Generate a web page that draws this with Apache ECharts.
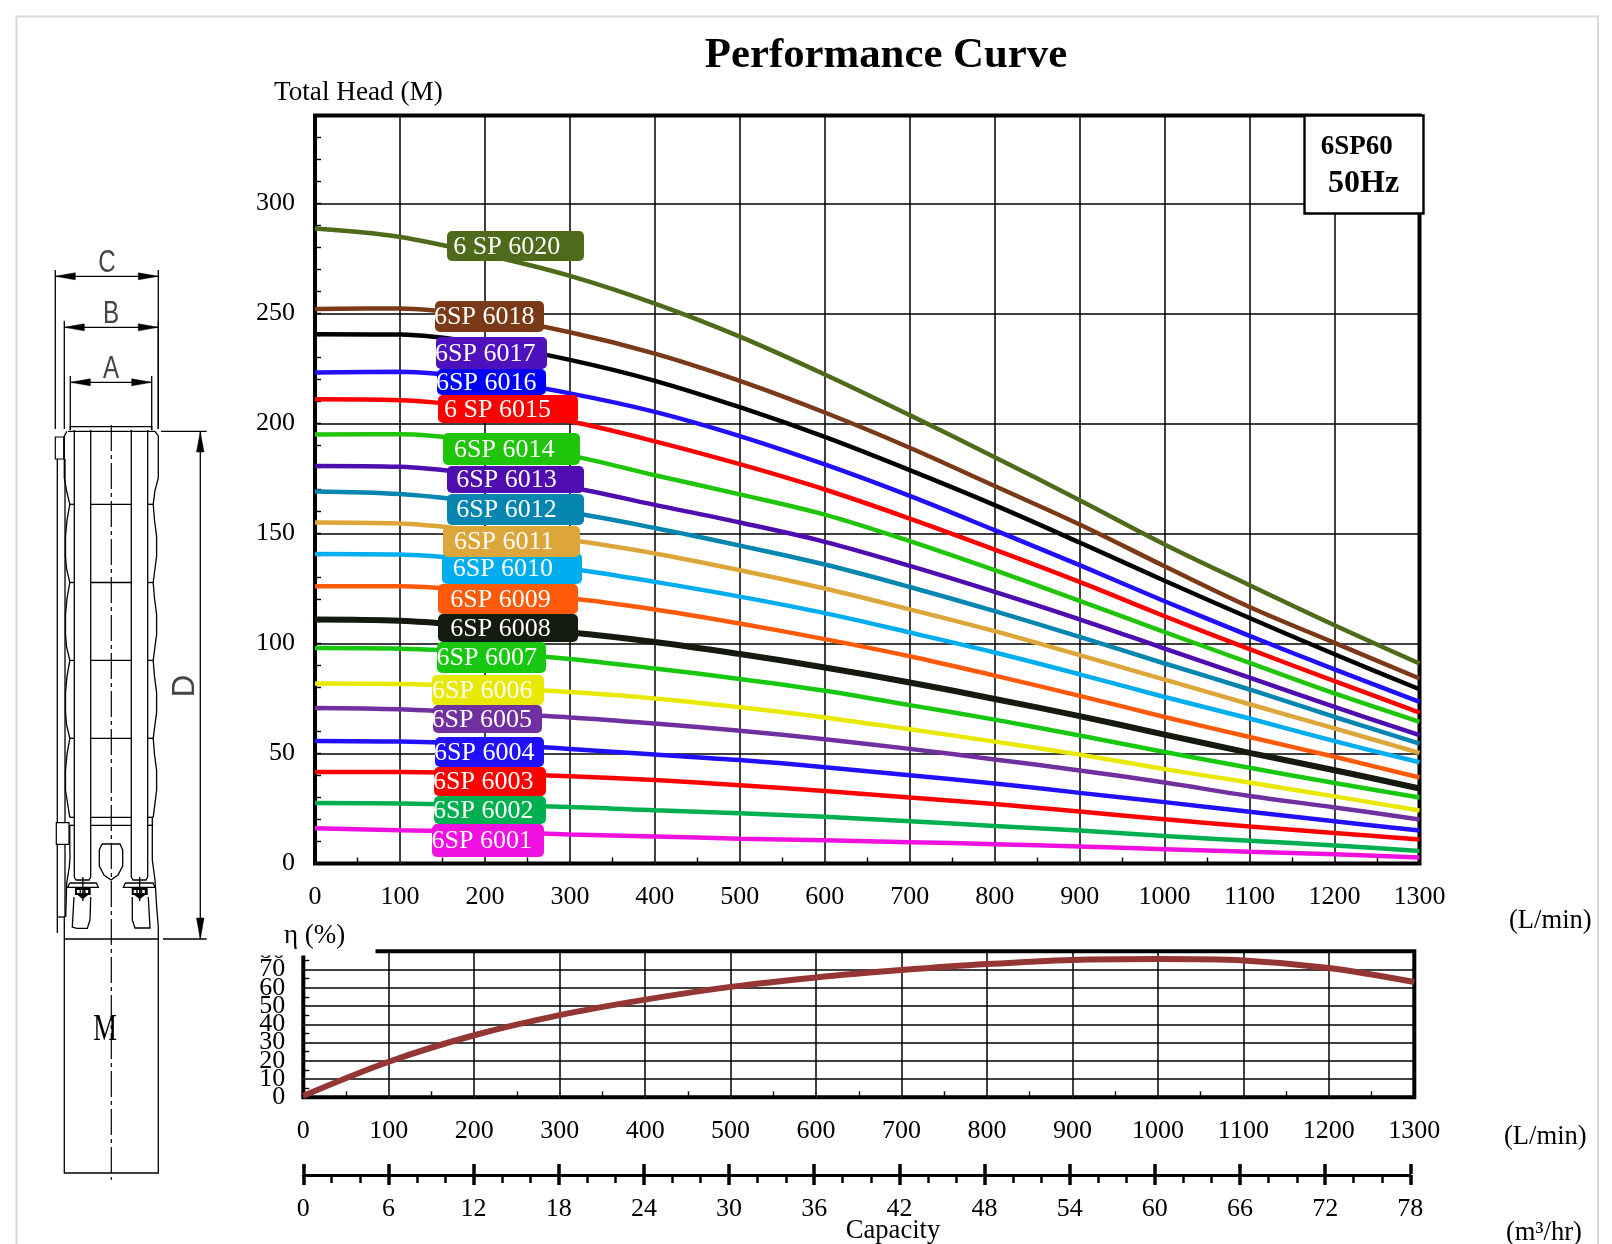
<!DOCTYPE html>
<html><head><meta charset="utf-8">
<script src="https://cdn.jsdelivr.net/npm/echarts@6/dist/echarts.min.js"></script>
<style>html,body{margin:0;padding:0;background:#fff}#c{width:1612px;height:1244px}</style>
</head><body><div id="c"></div>
<script>
// ---------- data ----------
const flowLpm = [0,100,200,300,400,500,600,700,800,900,1000,1100,1200,1300];
const head6001 = [16,15.1,14.4,13.2,12.3,11.3,10.6,9.7,8.8,7.7,6.5,5.3,4.2,2.7];
const head6002 = [27.5,27.3,26.5,25.7,24.2,22.8,21.2,19.2,17.1,15,12.5,10.3,8.2,5.7];
const head6003 = [41.6,41.6,40.9,39.7,37.9,35.6,33,30,27,23.6,20.1,16.8,13.9,10.9];
const head6004 = [55.7,55.4,54.2,52.1,49.5,47,43.8,40.1,36.4,32.1,27.9,23.5,19.2,15];
const head6005 = [70.7,70.1,68.2,66.4,63.6,60.3,56.5,52.1,47.3,42.3,36.8,30.7,25.5,20];
const head6006 = [81.8,81.6,80.1,77.9,75,71,66.4,61,55.4,49.5,42.9,36.8,30.5,24.1];
const head6007 = [97.9,97.6,95.9,93,88.6,83.9,78.5,72,65.4,58.2,50.7,43.5,36.6,30];
const head6008 = [110.9,110.3,107.7,105,100.7,95.2,89.1,82.3,74.8,67,58.6,50.3,42.4,34.1];
const head6009 = [126,126,123.5,120.6,115.5,109.1,102,94.2,85.4,76.2,66.6,57.5,48.5,39.1];
const head6010 = [140.7,140.4,137.6,134,128,121.3,113.8,105,95.9,86,75.7,65.9,55.6,46];
const head6011 = [155,154.5,151,147,140.9,133.3,125,115.5,105.6,94.7,83.6,72.4,61.4,50.3];
const head6012 = [169.1,167.9,164.1,159.5,152.5,144.5,135.9,125.7,114.7,103,90.9,79.1,66.6,54.5];
const head6013 = [180.7,180.3,176.5,171,163,155,146.2,135.3,123.5,111,97.7,84.5,71.2,58.3];
const head6014 = [195,195.1,191.6,185.5,176.5,167.8,158.6,146.5,133.3,119.4,105.2,91.2,77.3,64.4];
const head6015 = [211,210.6,207.1,201,191.9,181.5,170,156.8,142.7,128,112.4,97.4,82.9,68.6];
const head6016 = [223.2,223.5,220.2,213.7,205.3,194.3,181.4,167.1,151.5,135.6,119.2,103.5,88.2,73.5];
const head6017 = [240.6,240.4,236.3,228.9,219.4,207.4,193.9,178.8,162.9,145.9,128.5,111.6,95.1,79.2];
const head6018 = [252,252.3,248.5,241.5,231.8,219.4,205,189,171.6,154.1,135.1,116.6,100.3,84.1];
const head6020 = [288.6,284.8,276.8,267.1,254.5,239.5,222.3,203.8,184.7,165.1,145,126.5,108.3,90.9];
const efficiency = [0.8,19.5,34,45,53.5,60.5,65.7,69.7,73,75.3,75.8,75,70.9,63.2];
const modelNames = ['6SP 6001','6SP 6002','6SP 6003','6SP 6004','6SP 6005','6SP 6006','6SP 6007','6SP 6008','6SP 6009','6SP 6010','6SP 6011','6SP 6012','6SP 6013','6SP 6014','6 SP 6015','6SP 6016','6SP 6017','6SP 6018','6 SP 6020'];
const headCurves = [head6001,head6002,head6003,head6004,head6005,head6006,head6007,head6008,head6009,head6010,head6011,head6012,head6013,head6014,head6015,head6016,head6017,head6018,head6020];

// ---------- styles and layout ----------
const lineColors = ['#F010E0','#00B050','#FF0000','#2010FF','#7030A0','#E8E800','#18C810','#141A0E','#FF5A0A','#00AEEF','#DDA63A','#0585B0','#4F0CAE','#20C40A','#FF0000','#2010FF','#000000','#7A3A18','#4D6B1A'];
const tagColors  = ['#F010E0','#00B050','#FF0000','#2010FF','#7030A0','#E8E800','#18C810','#141A0E','#FF5A0A','#00AEEF','#DDA63A','#0585B0','#4F0CAE','#20C40A','#FF0000','#0000FF','#4F10BE','#7A3A18','#4D6B1A'];
// box: left, right, top, bottom, text start
const tagBoxes = [
 [432,544,824,857,431.5],[434,546,796,824,433],[434,546,767,796,433],[435,544,737,767,434],
 [433,542,705,733,431.5],[432,544,675,705,432],[437,546,642,673,436.5],[438,578,614,642,450.3],
 [438,578,584,614,450.3],[442,582,553,584,452.7],[443,580,526,557,454],[447,584,494,525,456.3],
 [447,584,466,493,456.3],[443,580,433,465,454],[438,578,395,423,444],[437,546,369,395,436],
 [436,547,337,369,435],[435,544,301,332,434],[447,584,231,261,453.3]];

const SERIF = '"Liberation Serif","Times New Roman",serif';
const g = [];
const Z = 10;
function pl(points, w, extra){ g.push({type:'polyline', z:Z, silent:true, shape:{points}, style:Object.assign({stroke:'#000', lineWidth:w||1.3, fill:null}, extra||{})}); }
function tri(points){ g.push({type:'polygon', z:Z, silent:true, shape:{points}, style:{fill:'#000', stroke:'#000', lineWidth:0.5}}); }
function tx(text,x,y,size,opt){ opt=opt||{}; g.push(Object.assign({type:'text', z:opt.z||Z, silent:true, x:x, y:y, scaleX:opt.scaleX||1, rotation:opt.rotation||0,
  style:{text:text, x:0, y:0, fontFamily:opt.family||SERIF, fontSize:size, fontWeight:opt.weight||'normal', fill:opt.fill||'#000',
  align:opt.align||'left', textAlign:opt.align||'left', verticalAlign:'middle', textVerticalAlign:'middle'}})); }
function rect(x,y,w,h,fill,stroke,lw,r){ g.push({type:'rect', z:Z, silent:true, shape:{x:x,y:y,width:w,height:h,r:r||0}, style:{fill:fill, stroke:stroke||null, lineWidth:lw||0}}); }

// page frame
pl([[16.5,1244],[16.5,16.5],[1598,16.5],[1598,1244]],2,{stroke:'#D9D9D9'});

// curve name tags
tagBoxes.forEach(function(b,i){
  rect(b[0],b[2],b[1]-b[0],b[3]-b[2],tagColors[i],null,0,5);
  tx(modelNames[i],b[4],(b[2]+b[3])/2+1,26,{fill:'#fff'});
});

// model box
rect(1304.5,115.5,119,98,'#fff','#000',2.4);
tx('6SP60',1320.7,147,27,{weight:'bold'});
tx('50Hz',1328,184,32,{weight:'bold'});

// titles and units
tx('Performance Curve',886,56,42.8,{weight:'bold',align:'center'});
tx('Total Head (M)',274,93,27.2);
tx('(L/min)',1509,921,26.6);
tx('(L/min)',1504,1137.5,26.6);
tx('(m\u00b3/hr)',1506,1233,26.6);
tx('Capacity',893,1231,26.6,{align:'center'});

// mask that shortens the efficiency frame at its top-left corner
rect(250,935,125.5,20.5,'#fff');
tx('\u03b7 (%)',284,936,27);

// pump drawing
const dim = [[55.3,158.3,270,429,276.3],[64.3,158.3,320.7,429,327.3],[70.3,151.7,376,430,382.3]];
dim.forEach(function(d){
  pl([[d[0],d[2]],[d[0],d[3]]]); pl([[d[1],d[2]],[d[1],d[3]]]); pl([[d[0],d[4]],[d[1],d[4]]]);
  tri([[d[0],d[4]],[d[0]+20,d[4]-3.5],[d[0]+20,d[4]+3.5]]);
  tri([[d[1],d[4]],[d[1]-20,d[4]-3.5],[d[1]-20,d[4]+3.5]]);
});
const LET = '"Liberation Sans",sans-serif';
tx('C',107,263,31,{family:LET,align:'center',fill:'#444',scaleX:0.78});
tx('B',111,314,31,{family:LET,align:'center',fill:'#444',scaleX:0.78});
tx('A',111,369,31,{family:LET,align:'center',fill:'#444',scaleX:0.78});
tx('D',185,686,31,{family:LET,align:'center',fill:'#444',rotation:Math.PI/2});
tx('M',105,1030,38,{align:'center',scaleX:0.7});
// cap
pl([[70.3,430],[70.3,426.7],[151.7,426.7],[151.7,430]]);
pl([[68,431.3],[155,431.3]]);
// body outline
const segY = [504.3,582.5,660.4,738.3];
let L=[[67,431.3],[64.3,436],[64.3,478]], R=[[155,431.3],[158.3,436],[158.3,478]];
segY.forEach(function(y){
  L.push([66.5,y-14],[69.8,y],[67,y+16],[65.5,y+32],[65.5,y+52]);
  R.push([155,y-14],[153.2,y],[154.5,y+16],[156.6,y+32],[156.6,y+52]);
});
L.push([69.8,817.3]); R.push([153.2,817.3]);
pl(L); pl(R);
// tubes and rings
[74.3,90.7,131.3,147.7].forEach(function(x){ pl([[x,430],[x,877]]); });
pl([[74.3,877],[76,880],[89,880],[90.7,877]]); pl([[131.3,877],[133,880],[146,880],[147.7,877]]);
segY.concat([817.3,825.3]).forEach(function(y){
  pl([[69.8,y],[74.3,y]]); pl([[90.7,y],[131.3,y]]); pl([[147.7,y],[153.2,y]]);
});
// cable guard
pl([[57.3,459],[57.3,933]]); pl([[65,459],[65,917]]); pl([[57.3,917],[65,917]]);
rect(55.3,437,8.4,22,'#fff','#000',1.2); rect(56.3,822.7,12.7,21.6,'#fff','#000',1.2);
// lower body
pl([[69.8,825],[69.8,847],[70,857],[69.3,867],[66.7,883],[65.7,917]]);
pl([[152.3,817],[152.3,860],[155,880],[156.7,907],[158.3,927]]);
// intake slot
pl([[102,844],[120,844],[122.7,850],[122.7,866],[118,875],[111,880],[104,875],[99.3,866],[99.3,850],[102,844]]);
// flanges
[[67.7,98.3],[123.3,155]].forEach(function(f){
  pl([[f[0]+2,883],[f[1]-2,883],[f[1],887.3],[f[0],887.3],[f[0]+2,883]]);
});
[[75,90.7],[131.7,147.7]].forEach(function(b){
  rect(b[0],888,b[1]-b[0],7,'#000');
  rect(b[0]+2,890,2.6,3,'#fff'); rect(b[0]+6,890,2.6,3,'#fff'); rect(b[0]+10.5,890,2.6,3,'#fff');
  tri([[b[0]+3,895],[b[1]-3,895],[(b[0]+b[1])/2,899]]);
  pl([[(b[0]+b[1])/2,877],[(b[0]+b[1])/2,901]]);
});
// feet
pl([[74,897],[72.3,927],[76.7,928.3],[87.3,928.3],[90,920],[90.7,897]]);
pl([[132.3,897],[132.3,920],[135,928],[150,928],[148.3,897]]);
// dimension D
pl([[161,431.3],[206.7,431.3]]); pl([[163,939],[206.7,939]]); pl([[200.3,431.3],[200.3,939]]);
tri([[200.3,432],[196.5,452],[204,452]]); tri([[200.3,939],[196.5,918],[204,918]]);
// motor
pl([[64.3,939],[158.3,939]]);
pl([[64.3,917],[64.3,1173],[158.3,1173],[158.3,927]]);
// centre line
pl([[111.3,425],[111.3,1180]],1.2,{lineDash:[26,4,4,4]});

// ---------- chart ----------
const thick = {show:false};
const grid0 = {left:315,top:115.5,width:1104.5,height:748,show:true,borderColor:'#000',borderWidth:4,backgroundColor:'transparent'};
const grid1 = {left:303.3,top:951.3,width:1111,height:146,show:true,borderColor:'#000',borderWidth:4,backgroundColor:'transparent'};
const grid2 = {left:303.3,top:1174,width:1107,height:1};
const lab = {fontFamily:SERIF,fontSize:26,color:'#000'};
const gridLine = {show:true,lineStyle:{color:'#000',width:1.5,type:'solid'}};
const plain = function(v){ return String(v); };

const series = headCurves.map(function(h,i){
  return {type:'line',name:modelNames[i],xAxisIndex:0,yAxisIndex:0,showSymbol:false,smooth:0.35,silent:true,
    data:flowLpm.map(function(x,k){return [x,h[k]];}),
    lineStyle:{color:lineColors[i],width:i===7?6:4.5},itemStyle:{color:lineColors[i]},z:3};
});
series.push({type:'line',name:'Efficiency',xAxisIndex:1,yAxisIndex:2,showSymbol:false,smooth:0.35,silent:true,
  data:flowLpm.map(function(x,k){return [x,efficiency[k]];}),
  lineStyle:{color:'#943634',width:6},itemStyle:{color:'#943634'},z:3});

const chart = echarts.init(document.getElementById('c'),null,{renderer:'canvas'});
chart.setOption({
  animation:false,backgroundColor:'#fff',
  grid:[grid0,grid1,grid2],
  xAxis:[
    {gridIndex:0,type:'value',min:0,max:1300,interval:100,axisLine:thick,
     axisTick:{show:true,inside:true,length:1},minorTick:{show:true,splitNumber:2,length:6,lineStyle:{color:'#000',width:1.4}},
     splitLine:gridLine,axisLabel:Object.assign({margin:21,showMinLabel:true,showMaxLabel:true,hideOverlap:false,formatter:plain},lab)},
    {gridIndex:1,type:'value',min:0,max:1300,interval:100,axisLine:thick,
     axisTick:{show:true,inside:true,length:1},minorTick:{show:true,splitNumber:2,length:6,lineStyle:{color:'#000',width:1.4}},
     splitLine:gridLine,axisLabel:Object.assign({margin:21,showMinLabel:true,showMaxLabel:true,hideOverlap:false,formatter:plain},lab)},
    {gridIndex:2,type:'value',position:'bottom',min:0,max:78,interval:6,
     axisLine:{show:true,onZero:false,lineStyle:{color:'#000',width:3}},
     axisTick:{show:true,length:10,lineStyle:{color:'#000',width:3.5}},
     minorTick:{show:true,splitNumber:3,length:8,lineStyle:{color:'#000',width:2.5}},
     splitLine:{show:false},axisLabel:Object.assign({margin:21,showMinLabel:true,showMaxLabel:true,hideOverlap:false,formatter:plain},lab)},
    {gridIndex:2,type:'value',position:'top',min:0,max:78,interval:6,
     axisLine:{show:false,onZero:false},axisTick:{show:true,length:10,lineStyle:{color:'#000',width:3.5}},
     splitLine:{show:false},axisLabel:{show:false}}
  ],
  yAxis:[
    {gridIndex:0,type:'value',min:0,max:340,interval:50,axisLine:thick,axisTick:{show:false},
     splitLine:gridLine,axisLabel:Object.assign({margin:20,padding:[6,0,0,0],hideOverlap:false,formatter:function(v){return v>300?'':String(v);}},lab)},
    {gridIndex:0,type:'value',position:'left',min:0,max:340,interval:10,axisLine:thick,
     axisTick:{show:true,inside:true,length:6,lineStyle:{color:'#000',width:1.4}},splitLine:{show:false},axisLabel:{show:false}},
    {gridIndex:1,type:'value',min:0,max:80,interval:10,axisLine:thick,
     axisTick:{show:true,inside:true,length:1},minorTick:{show:true,splitNumber:2,length:6,lineStyle:{color:'#000',width:1.4}},
     splitLine:gridLine,axisLabel:Object.assign({margin:18,padding:[5,0,0,0],hideOverlap:false,formatter:function(v){return v%20===0?String(v):'';}},lab)},
    {gridIndex:2,type:'value',min:0,max:1,show:false},
    {gridIndex:1,type:'value',position:'left',min:0,max:80,interval:10,axisLine:thick,axisTick:{show:false},splitLine:{show:false},
     axisLabel:Object.assign({margin:18,padding:[5,0,0,0],hideOverlap:false,formatter:function(v){return v%20===10?String(v):'';}},lab)}
  ],
  series:series,
  graphic:{elements:g}
});
</script></body></html>
